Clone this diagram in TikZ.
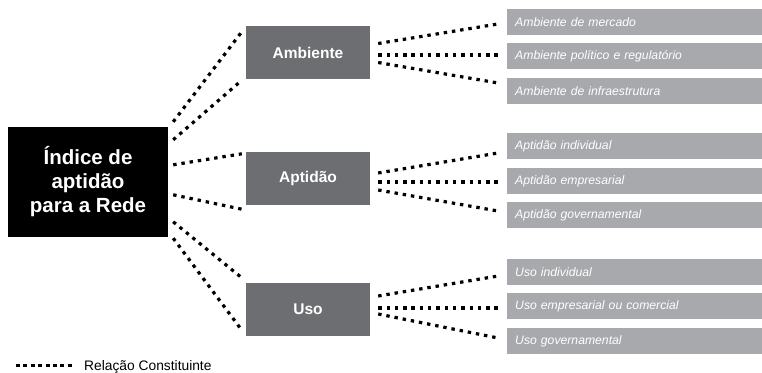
\documentclass[tikz,border=0pt]{standalone}
\usepackage{fontspec}
\setmainfont{Liberation Sans}
\usetikzlibrary{positioning}
\definecolor{dimgray}{HTML}{6D6E71}
\definecolor{itemgray}{HTML}{A7A9AC}
\tikzset{
  indexbox/.style={fill=black, text=white, font=\bfseries\fontsize{20.5}{24}\selectfont,
    align=center, minimum width=160pt, minimum height=110pt, inner sep=0pt},
  dimbox/.style={fill=dimgray, text=white, font=\bfseries\fontsize{15.5}{18}\selectfont,
    minimum width=124pt, minimum height=53pt, inner sep=0pt},
  itembox/.style={fill=itemgray, text=white, font=\itshape\fontsize{12.2}{14}\selectfont,
    anchor=west, minimum width=255pt, minimum height=26pt, text width=239pt,
    inner xsep=8pt, inner ysep=0pt, align=left},
  relation/.style={line width=3.2pt, dash pattern=on 3.4pt off 4.9pt}
}

\begin{document}
\begin{tikzpicture}[x=1pt, y=-1pt]
  \useasboundingbox (0,0) rectangle (762,372);

  % central index
  \node[indexbox] (indice) at (88,182) {Índice de\\aptidão\\para a Rede};

  % dimensions
  \node[dimbox] (ambiente) at (308,52.5) {Ambiente};
  \node[dimbox] (aptidao) at (308,178.5) {Aptidão};
  \node[dimbox] (uso) at (308,309.5) {Uso};

  % indicators
  \node[itembox] (mercado) at (507,22) {Ambiente de mercado};
  \node[itembox] (politico) at (507,56) {Ambiente político e regulatório};
  \node[itembox] (infra) at (507,91) {Ambiente de infraestrutura};
  \node[itembox] (aptind) at (507,146) {Aptidão individual};
  \node[itembox] (aptemp) at (507,181) {Aptidão empresarial};
  \node[itembox] (aptgov) at (507,215) {Aptidão governamental};
  \node[itembox] (usoind) at (507,272) {Uso individual};
  \node[itembox] (usoemp) at (507,306) {Uso empresarial ou comercial};
  \node[itembox] (usogov) at (507,341) {Uso governamental};

  % index -- dimensions
  \draw[relation] ([shift={(5,-5)}]indice.north east) -- ([shift={(-4,6)}]ambiente.north west);
  \draw[relation] ([shift={(5,13)}]indice.north east) -- ([shift={(-4,1)}]ambiente.south west);
  \draw[relation] ([shift={(5,38)}]indice.north east) -- ([shift={(-4,2)}]aptidao.north west);
  \draw[relation] ([shift={(5,68)}]indice.north east) -- ([shift={(-4,4)}]aptidao.south west);
  \draw[relation] ([shift={(5,95)}]indice.north east) -- ([shift={(-4,-5)}]uso.north west);
  \draw[relation] ([shift={(5,1)}]indice.south east) -- ([shift={(-4,-6)}]uso.south west);

  % dimensions -- indicators
  \draw[relation] ([shift={(8,-9)}]ambiente.east) -- ([shift={(-9,2)}]mercado.west);
  \draw[relation] ([shift={(8,2.5)}]ambiente.east) -- ([shift={(-9,-1)}]politico.west);
  \draw[relation] ([shift={(8,10)}]ambiente.east) -- ([shift={(-9,-8)}]infra.west);
  \draw[relation] ([shift={(8,-5.5)}]aptidao.east) -- ([shift={(-9,7)}]aptind.west);
  \draw[relation] ([shift={(8,3.5)}]aptidao.east) -- ([shift={(-9,1)}]aptemp.west);
  \draw[relation] ([shift={(8,11.5)}]aptidao.east) -- ([shift={(-9,-4)}]aptgov.west);
  \draw[relation] ([shift={(8,-13.5)}]uso.east) -- ([shift={(-9,4)}]usoind.west);
  \draw[relation] ([shift={(8,-1.5)}]uso.east) -- ([shift={(-9,2)}]usoemp.west);
  \draw[relation] ([shift={(8,4.5)}]uso.east) -- ([shift={(-9,-3)}]usogov.west);

  % legend
  \coordinate (legstart) at (16,365);
  \node[anchor=base west, inner sep=0pt, font=\fontsize{13.8}{16}\selectfont] (legend) at (84,370) {Relação Constituinte};
  \coordinate (legend end) at ([xshift=-11pt]legend.west);
  \draw[line width=3pt, dash pattern=on 4pt off 3.4pt] (legstart) -- (legstart -| legend end);
\end{tikzpicture}
\end{document}
